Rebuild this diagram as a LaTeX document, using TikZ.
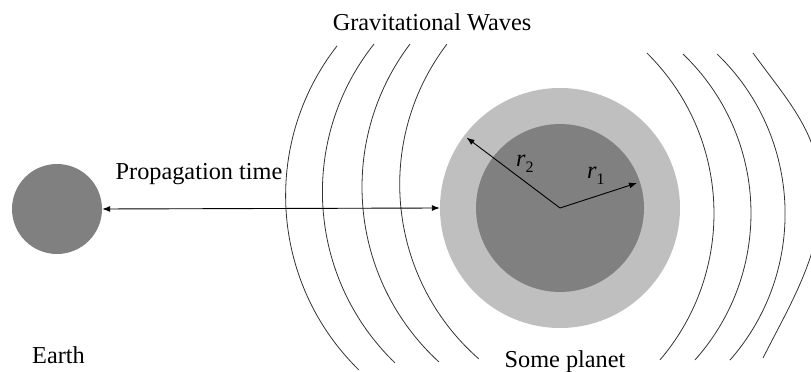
\documentclass[tikz,border=0pt]{standalone}
\usepackage{fontspec}
\setmainfont{Liberation Serif}
\newfontfamily\timesfont{Liberation Serif}
\usetikzlibrary{arrows.meta}
\tikzset{
  wave/.style={line width=0.8pt, draw=black!80},
  conn/.style={line width=0.9pt, {Latex[length=8pt,width=6pt]}-{Latex[length=8pt,width=6pt]}},
  radius arrow/.style={line width=0.9pt, -{Latex[length=8pt,width=6pt]}},
  lbl/.style={font=\timesfont\fontsize{24.3}{29}\selectfont, inner sep=0pt},
  ball/.style={circle, inner sep=0pt, draw=none},
}
\begin{document}
\begin{tikzpicture}[x=1pt,y=1pt]
\useasboundingbox (0,0) rectangle (811,372);
\clip (0,0) rectangle (811,372);
% bodies
\node[ball, fill=black!50, minimum size=90pt] (earth) at (57,163) {};
\node[ball, fill=black!25, minimum size=240pt] (planet) at (560,164) {};
\node[ball, fill=black!50, minimum size=168pt] (core) at (560,164) {};
\coordinate (ctr) at (560,164);
% waves (left)
\draw[wave] (529.5,176.3) ++(142.1:243.9) arc[start angle=142.1, end angle=225.6, radius=243.9];
\draw[wave] (560.1,180.1) ++(141.5:237.7) arc[start angle=141.5, end angle=226.0, radius=237.7];
\draw[wave] (599.2,184.9) ++(142.9:237.2) arc[start angle=142.9, end angle=227.5, radius=237.2];
\draw[wave] (631.7,187.6) ++(142.8:232.0) arc[start angle=142.8, end angle=228.8, radius=232.0];
% waves (right)
\draw[wave] (488.5,158.5) ++(45.4:225.5) arc[start angle=45.4, end angle=-40.5, radius=225.5];
\draw[wave] (530.8,158.8) ++(46.3:220.2) arc[start angle=46.3, end angle=-41.8, radius=220.2];
\draw[wave] (563.4,158.2) ++(46.1:221.7) arc[start angle=46.1, end angle=-41.3, radius=221.7];
\draw[wave] (753,319) .. controls (788.4,270.4) and (821,237) .. (821,177)
                      .. controls (821,117) and (790,67.4) .. (763,14);
% connectors
\draw[conn] (earth.east) -- (planet.west);
\draw[radius arrow] (ctr) -- ++(143:117);
\draw[radius arrow] (ctr) -- ++(18:81);
% labels
\node[lbl, anchor=base] (gw) at (432,341) {Gravitational Waves};
\node[lbl, anchor=base] (pt) at (199,192) {Propagation time};
\node[lbl, anchor=base] (earthlbl) at (58.5,9) {Earth};
\node[lbl, anchor=base] (planetlbl) at (565,5) {Some planet};
\node[lbl, anchor=base west] (rtwo) at (516,205) {\textit{r}\raisebox{-6pt}{\fontsize{16}{16}\selectfont 2}};
\node[lbl, anchor=base west] (rone) at (587,193) {\textit{r}\raisebox{-6pt}{\fontsize{16}{16}\selectfont 1}};
\end{tikzpicture}
\end{document}
